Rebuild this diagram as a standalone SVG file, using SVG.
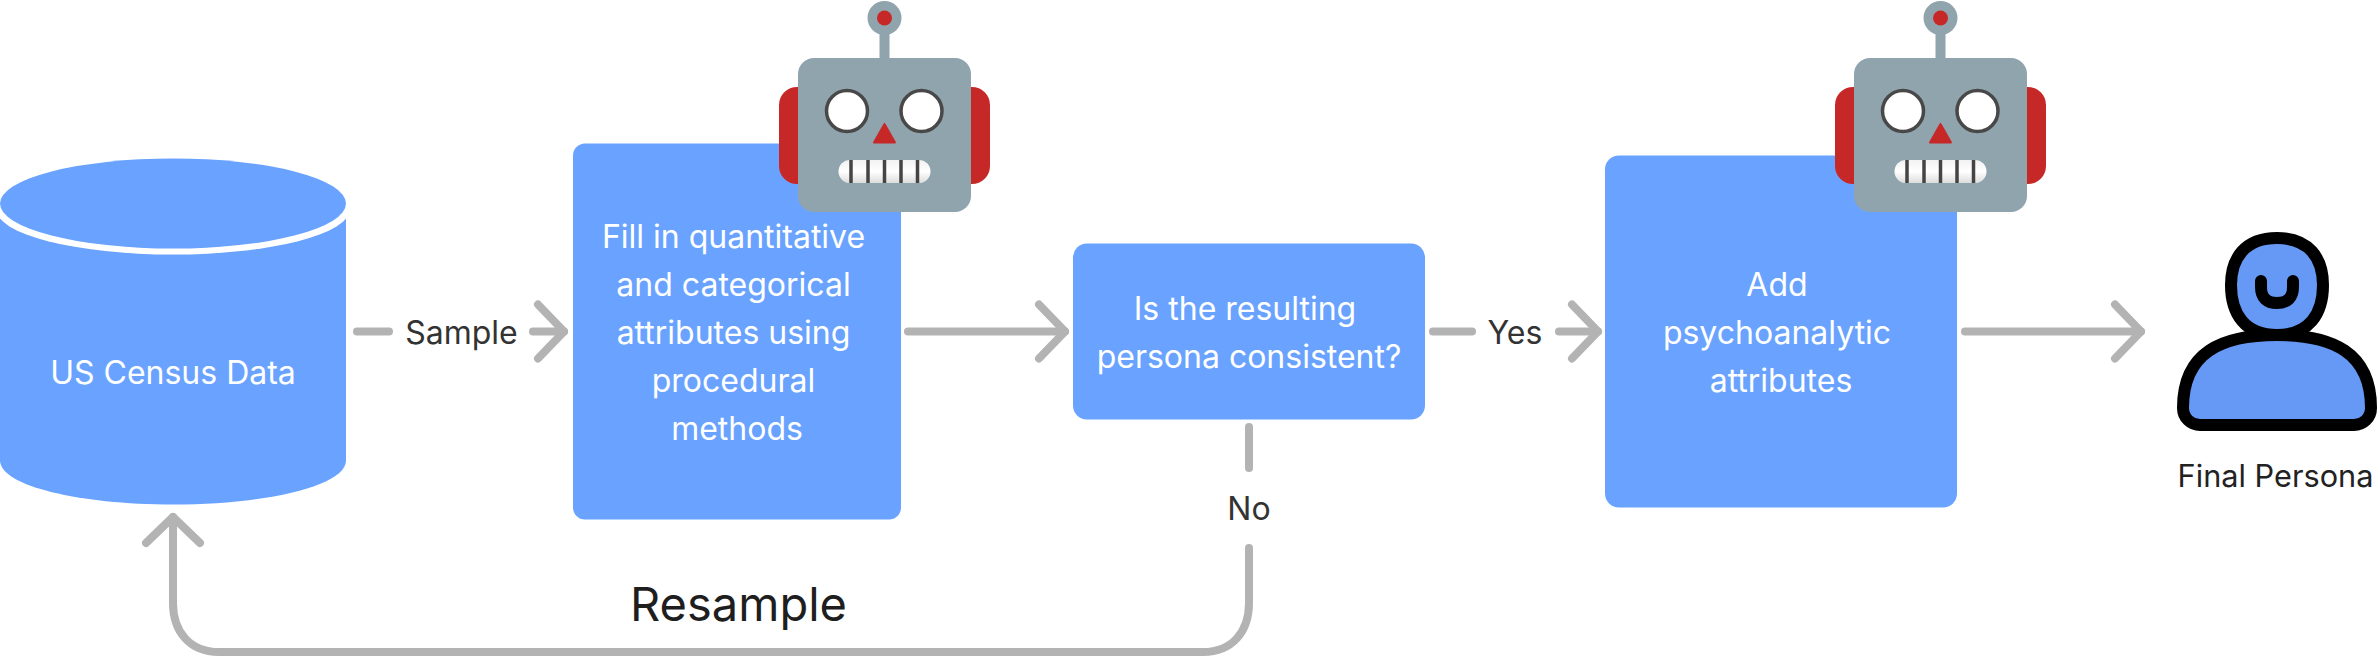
<svg xmlns="http://www.w3.org/2000/svg" xmlns:xlink="http://www.w3.org/1999/xlink" width="2378" height="656" viewBox="0 0 2378 656">
<style>
.box{fill:#69a3ff}
.lt{font-family:Inter,"Liberation Sans",sans-serif;font-size:32px;fill:#fff;text-anchor:middle}
.dk{font-family:Inter,"Liberation Sans",sans-serif;font-size:32px;fill:#333;text-anchor:middle}
.con{fill:none;stroke:#b3b3b3;stroke-width:8;stroke-linecap:round;stroke-linejoin:round}
</style>
<defs>
<marker id="head" markerUnits="userSpaceOnUse" markerWidth="80" markerHeight="80" refX="40" refY="40" viewBox="0 0 80 80" orient="auto" overflow="visible">
<path d="M14 13L40 40L14 67" fill="none" stroke="#b3b3b3" stroke-width="8" stroke-linecap="round" stroke-linejoin="round"/>
</marker>
<linearGradient id="white" x1="0" y1="0" x2="0" y2="1"><stop offset="0" stop-color="#f2f2f2"/><stop offset=".5" stop-color="#fff"/><stop offset="1" stop-color="#dcdcdc"/></linearGradient>
<g id="robot">
<rect x="779" y="87" width="211" height="97" rx="18" fill="#c62828"/>
<rect x="879.500" y="30" width="10" height="35" fill="#90a4ae"/>
<circle cx="884.500" cy="18" r="17" fill="#90a4ae"/>
<circle cx="884.500" cy="18" r="7.500" fill="#c62828"/>
<rect x="798" y="58" width="173" height="154" rx="16" fill="#90a4ae"/>
<circle cx="847" cy="111" r="20.500" fill="#fff" stroke="#484848" stroke-width="3.500"/>
<circle cx="921.500" cy="111" r="20.500" fill="#fff" stroke="#484848" stroke-width="3.500"/>
<path d="M884.500 124L895 142.500H874Z" fill="#c62828" stroke="#c62828" stroke-width="2" stroke-linejoin="round"/>
<rect x="838.500" y="160" width="92" height="23" rx="11.500" fill="url(#white)"/>
<path d="M851 160v23M868 160v23M884.500 160v23M901 160v23M917.500 160v23" stroke="#444" stroke-width="3.500" fill="none"/>
</g>
</defs>
<rect width="2378" height="656" fill="#fff"/>
<g id="connectors" class="con">
<path d="M357 331.500H389"/>
<path d="M533 331.500H564" marker-end="url(#head)"/>
<path d="M908 331.500H1065" marker-end="url(#head)"/>
<path d="M1433 331.500H1472"/>
<path d="M1559 331.500H1598" marker-end="url(#head)"/>
<path d="M1965 331.500H2141" marker-end="url(#head)"/>
<path d="M1249 427V468"/>
<path d="M1249 548V603C1249 632 1232 652 1203 652H219C190 652 173 632 173 603V517" marker-end="url(#head)"/>
</g>
<g id="census">
<path class="box" d="M0 212H346V460.500C346 485.500 268 504.500 173 504.500C78 504.500 0 485.500 0 460.500Z"/>
<ellipse cx="173" cy="209" rx="177" ry="45.500" fill="#fff"/>
<ellipse class="box" cx="173" cy="203.500" rx="173" ry="45"/>
<text class="lt" x="173" y="384">US Census Data</text>
</g>
<g id="fill-in">
<rect class="box" x="573" y="143.500" width="328" height="376" rx="12"/>
<text class="lt" x="733.500" y="248">Fill in quantitative</text>
<text class="lt" x="733.500" y="296">and categorical</text>
<text class="lt" x="733.500" y="344">attributes using</text>
<text class="lt" x="733.500" y="392">procedural</text>
<text class="lt" x="737" y="440">methods</text>
</g>
<use id="robot-1" xlink:href="#robot" href="#robot"/>
<g id="consistent">
<rect class="box" x="1073" y="243.500" width="352" height="176" rx="14"/>
<text class="lt" x="1245" y="320">Is the resulting</text>
<text class="lt" x="1249" y="368">persona consistent?</text>
</g>
<g id="psycho">
<rect class="box" x="1605" y="155.500" width="352" height="352" rx="14"/>
<text class="lt" x="1777" y="296">Add</text>
<text class="lt" x="1777" y="344">psychoanalytic</text>
<text class="lt" x="1781" y="392">attributes</text>
</g>
<use id="robot-2" xlink:href="#robot" href="#robot" x="1056"/>
<g id="persona">
<path d="M2277 238C2309 238 2323 258 2323 285C2323 314 2309 335 2277 335C2245 335 2231 314 2231 285C2231 258 2245 238 2277 238Z" fill="#6699f5" stroke="#000" stroke-width="12"/>
<path d="M2261 281V287C2261 298 2267 303 2277 303C2287 303 2293 298 2293 287V281" fill="none" stroke="#000" stroke-width="12" stroke-linecap="round"/>
<path d="M2277 335C2222 335 2183 352 2183 408C2183 418 2191 425 2200 425H2354C2363 425 2371 418 2371 408C2371 352 2332 335 2277 335Z" fill="#6699f5" stroke="#000" stroke-width="12"/>
<text class="dk" x="2275.500" y="487" style="fill:#222;font-size:30.700px">Final Persona</text>
</g>
<g id="labels">
<text class="dk" x="461.500" y="344">Sample</text>
<text class="dk" x="1515" y="344">Yes</text>
<text class="dk" x="1249" y="520">No</text>
<text class="dk" x="738.500" y="621" style="font-size:47px;fill:#1e1e1e">Resample</text>
</g>
</svg>
